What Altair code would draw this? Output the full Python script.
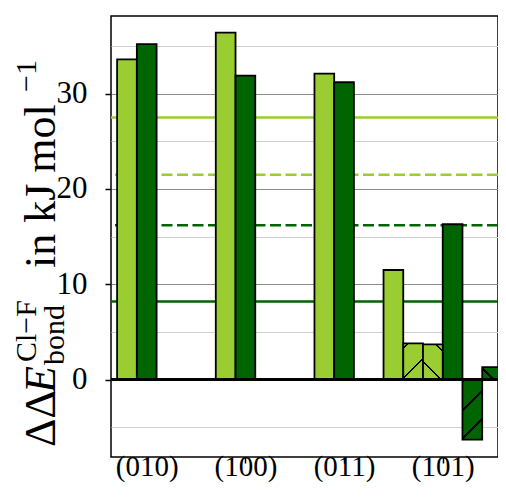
import math
import altair as alt
import pandas as pd

# ---------------- data ----------------
groups = ["(010)", "(100)", "(011)", "(101)"]
light_vals = [33.6, 36.4, 32.1]          # first three facets, light series
dark_vals = [35.2, 31.9, 31.2]           # first three facets, dark series
g4_vals = [11.5, 3.8, 3.7, 16.3, -6.3, 1.3]   # (101) facet, six bars
g4_colors = ["light", "light", "light", "dark", "dark", "dark"]
g4_hatch = ["", "/", "\\", "", "/", "\\"]

ref_vals = [27.5, 21.5, 16.2, 8.2]
ref_colors = ["light", "light", "dark", "dark"]
ref_dash = ["solid", "dashed", "dashed", "solid"]

y_ticks = [-5, 0, 5, 10, 15, 20, 25, 30, 35]
baseline = [0]

# ---------------- style / layout ----------------
LIGHT = "#9acd32"
DARK = "#006400"
FONT = "Liberation Serif"
PAD_L, PAD_T, PAD_B = 103, 8, 28
PW, PH = 387, 441
PX_X = 98.67
X_DOM = [-0.362, -0.362 + PW / PX_X]
Y_DOM = [-8.12, 38.15]
BAR_W = 0.2
PX_Y = PH / (Y_DOM[1] - Y_DOM[0])

pair_slots = [-0.2, 0.0]
g4_slots = [-0.5, -0.3, -0.1, 0.1, 0.3, 0.5]
# hatch line positions inside each hatched bar (pixel distance units)
hatch_centers = {1: [5, 35], 2: [18, 48], 4: [2, 31, 59], 5: [11.4]}

rows = []
for i in range(3):
    rows.append(dict(cat=i, slot=pair_slots[0], val=light_vals[i], col="light", hatch="", k=-1))
    rows.append(dict(cat=i, slot=pair_slots[1], val=dark_vals[i], col="dark", hatch="", k=-1))
for j in range(6):
    rows.append(dict(cat=3, slot=g4_slots[j], val=g4_vals[j], col=g4_colors[j], hatch=g4_hatch[j], k=j))
df = pd.DataFrame(rows)
df["xa"] = df["cat"] + df["slot"] - BAR_W / 2
df["xb"] = df["cat"] + df["slot"] + BAR_W / 2

ref_df = pd.DataFrame({"v": ref_vals, "col": ref_colors, "dash": ref_dash})
zero_df = pd.DataFrame({"v": baseline})

label_expr = "[" + ",".join("'%s'" % g for g in groups) + "][datum.value]"

xscale = alt.Scale(domain=X_DOM, nice=False, zero=False)
yscale = alt.Scale(domain=Y_DOM, nice=False, zero=False)
xaxis = alt.Axis(values=[0, 1, 2, 3], labelExpr=label_expr, title=None, grid=False,
                 domain=False, tickColor="black", tickSize=6, tickWidth=1.5,
                 labelFont=FONT, labelFontSize=29, labelColor="black", labelPadding=12,
                 labelBaseline="alphabetic")
yaxis = alt.Axis(values=y_ticks, title=None, domain=False,
                 labelExpr="datum.value % 10 === 0 ? datum.label : ''",
                 tickColor={"condition": {"test": "datum.value % 10 === 0", "value": "black"},
                            "value": "transparent"},
                 gridColor={"condition": {"test": "datum.value % 10 === 0", "value": "#8c8c8c"},
                            "value": "#cfcfcf"},
                 gridWidth=1.2, tickSize=6, tickWidth=1.5,
                 labelFont=FONT, labelFontSize=31, labelColor="black", labelPadding=18)

colscale = alt.Scale(domain=["light", "dark"], range=[LIGHT, DARK])

X = alt.X("xa:Q", scale=xscale, axis=xaxis)
X2 = alt.X2("xb")
Y = alt.Y("val:Q", scale=yscale, axis=yaxis)

refs = alt.Chart(ref_df).mark_rule(strokeWidth=2.5).encode(
    y=alt.Y("v:Q", scale=yscale, axis=yaxis),
    color=alt.Color("col:N", scale=colscale, legend=None),
    strokeDash=alt.StrokeDash("dash:N", scale=alt.Scale(domain=["solid", "dashed"],
                                                       range=[[1, 0], [11, 4.5]]), legend=None),
)

plain = alt.Chart(df[df["hatch"] == ""]).mark_bar(stroke="black", strokeWidth=1.8).encode(
    x=X, x2=X2, y=Y, y2=alt.datum(0),
    fill=alt.Fill("col:N", scale=colscale, legend=None),
)


def hatch_fill(color, kind, w, h, centers, lw=1.7):
    L = w + h
    S = (w * w + h * h) / L
    if kind == "/":
        x1, y1, x2, y2 = 0, 0, w / S, h / S
    else:
        x1, y1, x2, y2 = 0, 1, w / S, 1 - h / S
    hw = lw * math.sqrt(2) / 2 / L
    stops = [{"offset": 0, "color": color}]
    for c in centers:
        t = c / L
        a, b = max(0.0, t - hw), min(1.0, t + hw)
        stops += [{"offset": a, "color": color}, {"offset": a, "color": "black"},
                  {"offset": b, "color": "black"}, {"offset": b, "color": color}]
    stops.append({"offset": 1, "color": color})
    return {"gradient": "linear", "x1": x1, "y1": y1, "x2": x2, "y2": y2, "stops": stops}


hatched_layers = []
for k, cent in hatch_centers.items():
    sub = df[df["k"] == k]
    v = float(sub["val"].iloc[0])
    colr = LIGHT if sub["col"].iloc[0] == "light" else DARK
    grad = hatch_fill(colr, sub["hatch"].iloc[0], BAR_W * PX_X, abs(v) * PX_Y, cent)
    hatched_layers.append(
        alt.Chart(sub).mark_bar(fill=grad, stroke="black", strokeWidth=1.8).encode(
            x=X, x2=X2, y=Y, y2=alt.datum(0))
    )

zero = alt.Chart(zero_df).mark_rule(color="black", strokeWidth=3).encode(
    y=alt.Y("v:Q", scale=yscale, axis=yaxis))

# y-axis title pieces: (text, size, italic, baseline x on page, start y on page)
title_parts = [
    ("ΔΔ", 44, False, 55, 447),
    ("E", 44, True, 55, 393),
    ("Cl−F", 30, False, 36, 362),
    ("bond", 30, False, 64, 365),
    ("in kJ mol", 44, False, 55, 268),
    ("−1", 30, False, 36, 92),
]
one = alt.InlineData(values=[{"a": 1}])
title_layers = []
for txt, size, ital, bx, sy in title_parts:
    title_layers.append(
        alt.Chart(one).mark_text(text=txt, font=FONT, fontSize=size, angle=270,
                                 align="left", baseline="alphabetic", color="black",
                                 fontStyle="italic" if ital else "normal").encode(
            x=alt.value(bx - 8 - PAD_L), y=alt.value(sy - 8 - PAD_T))
    )

chart = alt.layer(refs, plain, *hatched_layers, zero, *title_layers).properties(
    width=PW, height=PH,
    autosize=alt.AutoSizeParams(type="none"),
    padding={"left": PAD_L, "top": PAD_T, "right": 0, "bottom": PAD_B},
).configure_view(stroke="black", strokeWidth=1.5)

chart.save("out.html", embed_options={"renderer": "svg", "actions": False})
